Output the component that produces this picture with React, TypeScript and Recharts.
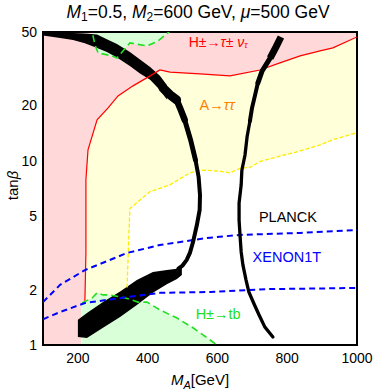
import { ComposedChart, XAxis, YAxis, Area, Line, ReferenceArea, ReferenceDot, Label } from 'recharts'

const FONT = '"Liberation Sans", Arial, Helvetica, sans-serif'

const xTicks = [200, 400, 600, 800, 1000]
const yTicks = [1, 2, 5, 10, 20, 50]

// [M_A, tanβ] points
const redLine = [
  [220, 1.71], [223, 3.16], [223, 7.87], [229, 11.45], [255, 16.7], [286, 19.3], [315, 22.5],
  [358, 25.5], [407, 28.9], [435, 31.1], [464, 30.3], [550, 29.6], [636, 28.9], [722, 31.1],
  [779, 34.0], [837, 37.1], [894, 39.5], [931, 41.0], [1000, 47.0],
]
const yellowDash = [
  [341, 2.05], [349, 5.5], [407, 6.8], [464, 7.4], [521, 8.6], [559, 8.9], [600, 8.8], [636, 8.6],
  [665, 9.1], [693, 9.2], [722, 9.9], [779, 10.6], [837, 11.3], [894, 12.2], [931, 13.0], [1000, 14.2],
]
const greenDash = [
  [212, 1.69], [241, 1.8], [255, 1.92], [272, 1.87], [292, 1.87], [341, 1.79], [372, 1.71],
  [398, 1.71], [435, 1.55], [484, 1.4], [530, 1.24], [599, 1.0],
]
const greenTopDash = [
  [243, 48], [249, 42.5], [258, 38.5], [298, 37.1], [312, 36.1], [349, 43.6], [398, 42.0],
  [430, 44.7], [458, 49.4], [462, 50],
]
const xenonUpper = [
  [100, 1.71], [149, 2.12], [220, 2.55], [341, 3.16], [435, 3.49], [570, 3.81], [665, 3.96],
  [837, 4.06], [1000, 4.21],
]
const xenonLower = [
  [100, 1.38], [149, 1.51], [220, 1.69], [341, 1.82], [435, 1.92], [579, 1.94], [742, 2.01],
  [1000, 2.04],
]

// PLANCK band, left branch: [M_A, low, high]
const planckUpper = [
  [100, 47.9, 50], [149, 46.4, 49.8], [186, 45.3, 49.4], [220, 43.4, 49.1], [255, 41.0, 48.5],
  [283, 39.0, 45.6], [312, 36.4, 43.1], [349, 32.7, 39.0], [378, 29.8, 35.5], [407, 27.5, 32.3],
  [435, 24.2, 28.9], [455, 21.5, 25.8],
]
const planckLower = [
  [200, 1.105, 1.37], [226, 1.09, 1.49], [272, 1.24, 1.71], [321, 1.42, 1.95], [369, 1.65, 2.25],
  [415, 1.92, 2.49], [455, 2.14, 2.55], [484, 2.28, 2.59], [498, 2.4, 2.68],
]
const planckStemA = [[444, 24.8], [464, 22.8], [483, 21.4]]
const planckStemB = [[483, 21.4], [493, 19.3], [506, 16.7]]
const planckStemC = [[506, 16.7], [523, 13.0], [537, 10.1]]
const planckStemD = [
  [537, 10.1], [546, 8.17], [550, 6.52], [549, 5.41], [541, 4.48], [530, 3.62], [521, 3.16],
  [512, 2.9], [500, 2.7], [488, 2.6],
]
// PLANCK band, right branch
const planckRightA = [[782, 47.0], [768, 41.5], [751, 36.1]]
const planckRightB = [[751, 36.1], [728, 30.7], [716, 26.5]]
const planckRightC = [[716, 26.5], [708, 22.8], [699, 19.3], [693, 16.4]]
const planckRightD = [
  [693, 16.4], [685, 13.5], [679, 10.75], [670, 8.9], [668, 7.39], [662, 5.9], [662, 4.77],
  [665, 3.86], [668, 3.2], [673, 2.72], [682, 2.25], [690, 1.94], [705, 1.67], [719, 1.46],
  [736, 1.25], [759, 1.105],
]

const pts = (a: number[][]) => a.map(([x, y]) => ({ x, y }))
const band = (a: number[][]) => a.map(([x, lo, hi]) => ({ x, r: [lo, hi] }))

const pinkRegion = band([[100, 1, 50], [210, 1, 50], [210, 1.69, 50], ...redLine.map(([x, t]) => [x, t, 50])])
const yellowRegion = band([...greenDash.filter(([x]) => x <= 341), ...yellowDash].map(([x, t]) => [x, t, 50]))
const greenRegion = band([[210, 1, 1.69], ...greenDash.map(([x, t]) => [x, 1, t])])
const greenTopRegion = band(greenTopDash.map(([x, t]) => [x, t, 50]))

const txt = (fill: string, size: number, children: any) => (props: any) => {
  const vb = props.viewBox || {}
  const cx = (vb.x ?? 0) + (vb.width ?? 0) / 2
  const cy = (vb.y ?? 0) + (vb.height ?? 0) / 2
  return (
    <text x={cx} y={cy} textAnchor="middle" dominantBaseline="central" fill={fill} fontSize={size} fontFamily={FONT}>
      {children}
    </text>
  )
}

const XLabel = (props: any) => {
  const { x, y, width } = props.viewBox
  return (
    <text x={x + width / 2} y={y + 40} textAnchor="middle" fontSize={15} fontFamily={FONT} fill="#000">
      <tspan fontStyle="italic">M</tspan>
      <tspan fontSize={11} dy={4} fontStyle="italic">A</tspan>
      <tspan dy={-4}>[GeV]</tspan>
    </text>
  )
}

const YLabel = (props: any) => {
  const { x, y, height } = props.viewBox
  const cx = x + 12
  const cy = y + height / 2 - 3
  return (
    <text x={cx} y={cy} textAnchor="middle" dominantBaseline="central" fontSize={15} fontFamily={FONT} fill="#000"
      transform={`rotate(-90 ${cx} ${cy})`}>
      tan<tspan fontStyle="italic">β</tspan>
    </text>
  )
}

const areaProps = { type: 'linear' as const, dataKey: 'r', stroke: 'none', fillOpacity: 1, isAnimationActive: false, dot: false, activeDot: false }
const lineProps = { type: 'linear' as const, dataKey: 'y', dot: false, activeDot: false, isAnimationActive: false, fill: 'none' }

export default function App() {
  return (
    <div style={{ position: 'absolute', left: 0, top: 0, width: 374, height: 392, background: '#fff' }}>
      <svg width={374} height={30} style={{ position: 'absolute', left: 0, top: 0 }}>
        <text x={198} y={18} textAnchor="middle" fontSize={17.5} fontFamily={FONT} fill="#000">
          <tspan fontStyle="italic">M</tspan>
          <tspan fontSize={12} dy={3}>1</tspan>
          <tspan dy={-3}>=0.5, </tspan>
          <tspan fontStyle="italic">M</tspan>
          <tspan fontSize={12} dy={3}>2</tspan>
          <tspan dy={-3}>=600 GeV, </tspan>
          <tspan fontStyle="italic">μ</tspan>
          <tspan>=500 GeV</tspan>
        </text>
      </svg>
      <ComposedChart width={374} height={392} margin={{ top: 32, right: 17, bottom: 0, left: 0 }}>
        <XAxis dataKey="x" type="number" domain={[100, 1000]} ticks={xTicks} interval={0} allowDataOverflow
          tickLine={false} axisLine={false} height={47}
          tick={{ fontSize: 14, fill: '#000', fontFamily: FONT }}>
          <Label content={XLabel} />
        </XAxis>
        <YAxis type="number" scale="log" domain={[1, 50]} ticks={yTicks} interval={0} allowDataOverflow
          tickLine={false} axisLine={false} width={43} tickSize={4}
          tick={{ fontSize: 14, fill: '#000', fontFamily: FONT }}>
          <Label content={YLabel} />
        </YAxis>

        <Area {...areaProps} data={yellowRegion} fill="#ffffd9" />
        <Area {...areaProps} data={pinkRegion} fill="#ffd9d9" />
        <Area {...areaProps} data={greenRegion} fill="#d9ffd9" />
        <Area {...areaProps} data={greenTopRegion} fill="#d9ffd9" />

        <Line {...lineProps} data={pts(redLine)} stroke="#ff0000" strokeWidth={1.2} />
        <Line {...lineProps} data={pts(yellowDash)} stroke="#ffea00" strokeWidth={1.3} strokeDasharray="4 2" />
        <Line {...lineProps} data={pts(greenDash)} stroke="#22dd22" strokeWidth={1.6} strokeDasharray="7 4" />
        <Line {...lineProps} data={pts(greenTopDash)} stroke="#22dd22" strokeWidth={1.6} strokeDasharray="7 4" />
        <Line {...lineProps} data={pts(xenonUpper)} stroke="#0000ff" strokeWidth={2} strokeDasharray="6 4" />
        <Line {...lineProps} data={pts(xenonLower)} stroke="#0000ff" strokeWidth={2} strokeDasharray="6 4" />

        <Area {...areaProps} data={band(planckUpper)} fill="#000" />
        <Area {...areaProps} data={band(planckLower)} fill="#000" />
        <Line {...lineProps} data={pts(planckStemA)} stroke="#000" strokeWidth={9} strokeLinecap="round" />
        <Line {...lineProps} data={pts(planckStemB)} stroke="#000" strokeWidth={6.5} strokeLinecap="round" />
        <Line {...lineProps} data={pts(planckStemC)} stroke="#000" strokeWidth={5} strokeLinecap="round" />
        <Line {...lineProps} data={pts(planckStemD)} stroke="#000" strokeWidth={4} strokeLinecap="round" />
        <Line {...lineProps} data={pts(planckRightA)} stroke="#000" strokeWidth={7} />
        <Line {...lineProps} data={pts(planckRightB)} stroke="#000" strokeWidth={5} strokeLinecap="round" />
        <Line {...lineProps} data={pts(planckRightC)} stroke="#000" strokeWidth={4} strokeLinecap="round" />
        <Line {...lineProps} data={pts(planckRightD)} stroke="#000" strokeWidth={3.3} strokeLinecap="round" />

        <ReferenceDot x={602} y={44.2} r={0} fill="none" stroke="none"
          label={txt('#ff0000', 14, <>H±→<tspan fontStyle="italic">τ</tspan>± <tspan fontStyle="italic">ν</tspan><tspan fontSize={9} dy={3} fontStyle="italic">τ</tspan></>)} />
        <ReferenceDot x={599} y={20.1} r={0} fill="none" stroke="none"
          label={txt('#ff8000', 14.5, <>A→<tspan fontStyle="italic">ττ</tspan></>)} />
        <ReferenceDot x={802} y={4.95} r={0} fill="none" stroke="none" label={txt('#000', 14.5, 'PLANCK')} />
        <ReferenceDot x={799} y={3.0} r={0} fill="none" stroke="none" label={txt('#0000ff', 14.5, 'XENON1T')} />
        <ReferenceDot x={602} y={1.47} r={0} fill="none" stroke="none" label={txt('#22dd22', 14.5, 'H±→tb')} />

        <ReferenceArea x1={100} x2={1000} y1={1} y2={50} fill="none" fillOpacity={0} stroke="#000" strokeWidth={2} />
      </ComposedChart>
    </div>
  )
}
